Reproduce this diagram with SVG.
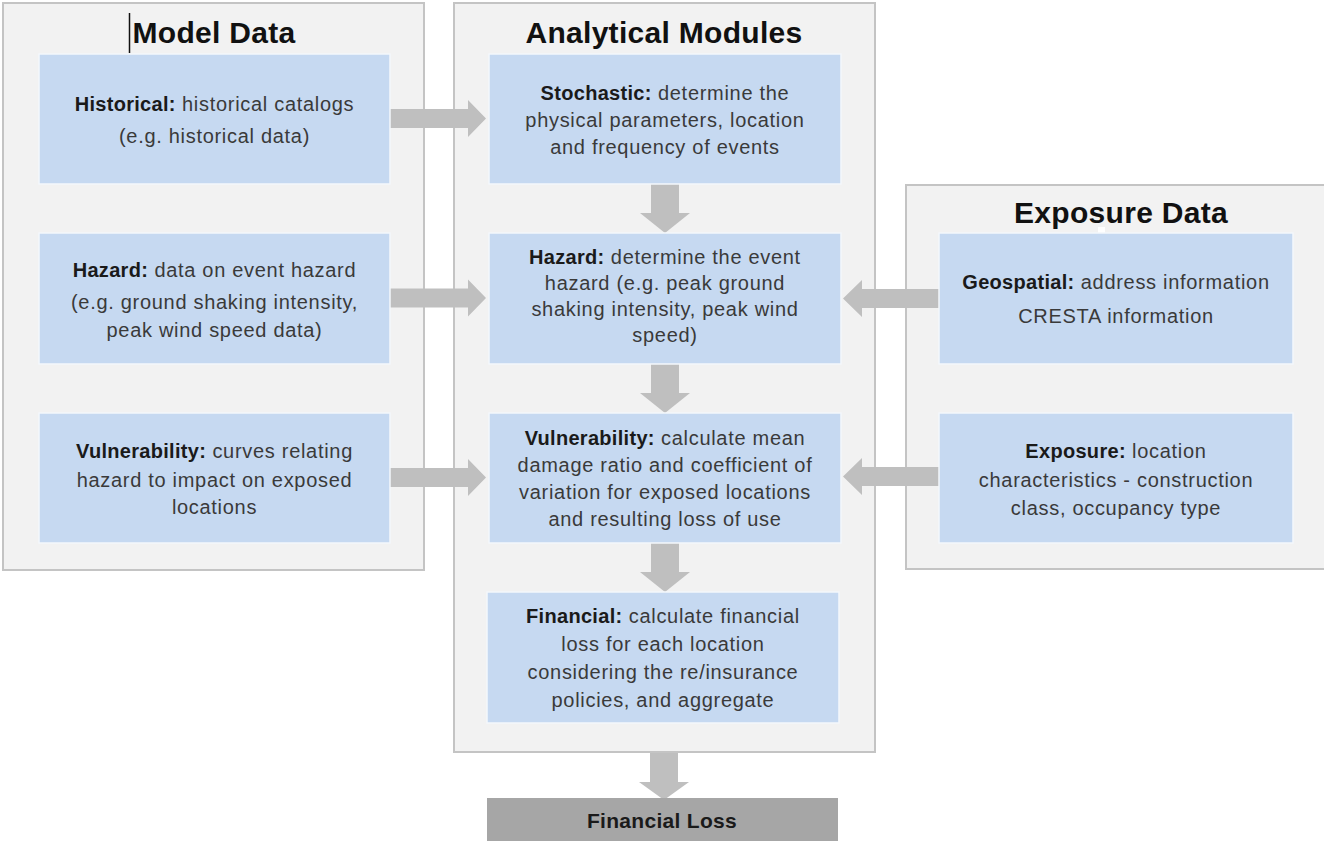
<svg xmlns="http://www.w3.org/2000/svg" width="1324" height="841" viewBox="0 0 1324 841">
<defs>
<style>
.panel{fill:#f2f2f2;stroke:#c4c4c4;stroke-width:2}
.box{fill:#c6d9f1;stroke:#f4f7fb;stroke-width:1.5}
.title{font-family:"Liberation Sans",Arial,sans-serif;font-weight:bold;font-size:30px;fill:#111;text-anchor:middle;letter-spacing:0.3px}
.t{font-family:"Liberation Sans",Arial,sans-serif;font-size:20px;fill:#3a3a3a;text-anchor:middle;letter-spacing:0.7px}
.t .b{font-weight:bold;fill:#1a1a1a;letter-spacing:0.3px}
.arrow{fill:#bfbfbf}
.loss{fill:#a6a6a6}
.lt{font-family:"Liberation Sans",Arial,sans-serif;font-weight:bold;font-size:21px;fill:#1a1a1a;text-anchor:middle;letter-spacing:0.3px}
</style>
</defs>
<rect width="1324" height="841" fill="#ffffff"/>

<g id="panel-model">
<rect class="panel" x="3" y="3" width="421" height="567"/>
<text class="title" x="214" y="43">Model Data</text>
<line x1="129.5" y1="13" x2="129.5" y2="53" stroke="#111" stroke-width="1.5"/>
</g>
<g id="panel-analytical">
<rect class="panel" x="454" y="3" width="421" height="749"/>
<text class="title" x="664" y="43">Analytical Modules</text>
</g>
<g id="panel-exposure">
<rect class="panel" x="906" y="185" width="424" height="384"/>
<text class="title" x="1121" y="223">Exposure Data</text>
<rect x="1098" y="227" width="7" height="6" fill="#ffffff"/>
</g>

<g id="connectors">
<path class="arrow" d="M390,109 H468 V100 L486,118.5 L468,137 V128 H390 Z"/>
<path class="arrow" d="M390,288.5 H468 V279.5 L486,298 L468,316.5 V307.5 H390 Z"/>
<path class="arrow" d="M390,468 H468 V459 L486,477.5 L468,496 V487 H390 Z"/>
<path class="arrow" d="M939,289 H862 V280 L843,298.5 L862,317 V308 H939 Z"/>
<path class="arrow" d="M939,467 H862 V458 L843,476.5 L862,495 V486 H939 Z"/>
<path class="arrow" d="M651,184 H679 V213 H690 L665,233 L640,213 H651 Z"/>
<path class="arrow" d="M651,364 H679 V393 H690 L665,413 L640,393 H651 Z"/>
<path class="arrow" d="M651,543 H679 V572 H690 L665,592 L640,572 H651 Z"/>
<path class="arrow" d="M650,753 H678 V782 H689 L664,800 L639,782 H650 Z"/>
</g>

<g id="historical">
<rect class="box" x="39" y="54" width="351" height="130"/>
<text class="t" x="214.5" y="111"><tspan class="b">Historical:</tspan> historical catalogs</text>
<text class="t" x="214.5" y="143">(e.g. historical data)</text>
</g>
<g id="hazard-data">
<rect class="box" x="39" y="233" width="351" height="131"/>
<text class="t" x="214.5" y="277"><tspan class="b">Hazard:</tspan> data on event hazard</text>
<text class="t" x="214.5" y="309">(e.g. ground shaking intensity,</text>
<text class="t" x="214.5" y="337">peak wind speed data)</text>
</g>
<g id="vulnerability-data">
<rect class="box" x="39" y="413" width="351" height="130"/>
<text class="t" x="214.5" y="458"><tspan class="b">Vulnerability:</tspan> curves relating</text>
<text class="t" x="214.5" y="487">hazard to impact on exposed</text>
<text class="t" x="214.5" y="514">locations</text>
</g>

<g id="stochastic">
<rect class="box" x="489" y="54" width="352" height="130"/>
<text class="t" x="665" y="100"><tspan class="b">Stochastic:</tspan> determine the</text>
<text class="t" x="665" y="127">physical parameters, location</text>
<text class="t" x="665" y="154">and frequency of events</text>
</g>
<g id="hazard-module">
<rect class="box" x="489" y="233" width="352" height="131"/>
<text class="t" x="665" y="264"><tspan class="b">Hazard:</tspan> determine the event</text>
<text class="t" x="665" y="290">hazard (e.g. peak ground</text>
<text class="t" x="665" y="316">shaking intensity, peak wind</text>
<text class="t" x="665" y="342">speed)</text>
</g>
<g id="vulnerability-module">
<rect class="box" x="489" y="413" width="352" height="130"/>
<text class="t" x="665" y="445"><tspan class="b">Vulnerability:</tspan> calculate mean</text>
<text class="t" x="665" y="472">damage ratio and coefficient of</text>
<text class="t" x="665" y="499">variation for exposed locations</text>
<text class="t" x="665" y="526">and resulting loss of use</text>
</g>
<g id="financial-module">
<rect class="box" x="487" y="592" width="352" height="131"/>
<text class="t" x="663" y="623"><tspan class="b">Financial:</tspan> calculate financial</text>
<text class="t" x="663" y="651">loss for each location</text>
<text class="t" x="663" y="679">considering the re/insurance</text>
<text class="t" x="663" y="707">policies, and aggregate</text>
</g>

<g id="geospatial">
<rect class="box" x="939" y="233" width="354" height="131"/>
<text class="t" x="1116" y="289"><tspan class="b">Geospatial:</tspan> address information</text>
<text class="t" x="1116" y="323">CRESTA information</text>
</g>
<g id="exposure">
<rect class="box" x="939" y="413" width="354" height="130"/>
<text class="t" x="1116" y="458"><tspan class="b">Exposure:</tspan> location</text>
<text class="t" x="1116" y="487">characteristics - construction</text>
<text class="t" x="1116" y="515">class, occupancy type</text>
</g>

<g id="financial-loss">
<rect class="loss" x="487" y="798" width="351" height="50"/>
<text class="lt" x="662" y="828">Financial Loss</text>
</g>
</svg>
